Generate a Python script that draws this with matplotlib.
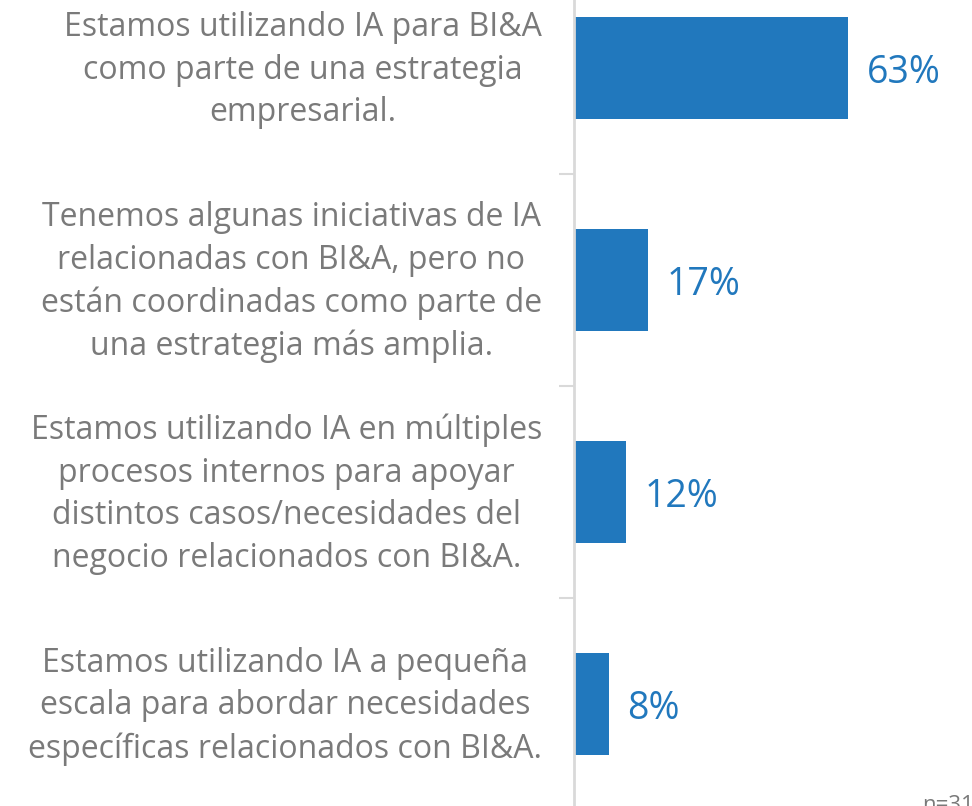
import matplotlib
matplotlib.use("Agg")
import matplotlib.pyplot as plt
from matplotlib.transforms import ScaledTranslation

# data
categories = [
    "Estamos utilizando IA para BI&A\ncomo parte de una estrategia\nempresarial.",
    "Tenemos algunas iniciativas de IA\nrelacionadas con BI&A, pero no\nestán coordinadas como parte de\nuna estrategia más amplia.",
    "Estamos utilizando IA en múltiples\nprocesos internos para apoyar\ndistintos casos/necesidades del\nnegocio relacionados con BI&A.",
    "Estamos utilizando IA a pequeña\nescala para abordar necesidades\nespecíficas relacionados con BI&A.",
]
values = [63, 17, 12, 8]
note = "n=31"

bar_color = "#2178bd"
text_grey = "#7a7a7a"
axis_grey = "#d9d9d9"

plt.rcParams["font.family"] = ["Open Sans", "DejaVu Sans"]

fig = plt.figure(figsize=(9.72, 8.06), dpi=100)
ax = fig.add_axes([574 / 972, 0, 1 - 574 / 972, 1])

pos = list(range(len(values)))
ax.barh(pos, values, height=0.48, color=bar_color)

ax.set_xlim(0, 91.5)
ax.set_ylim(3.481, -0.321)

# value labels, nudged down a few pixels
down = ScaledTranslation(0, -0.05, fig.dpi_scale_trans)
for y, v in zip(pos, values):
    ax.text(v + 4.3, y, f"{v}%", va="center", ha="left", fontsize=27,
            color=bar_color, transform=ax.transData + down)

# category labels sit a touch above the bar centres
ax.set_yticks([p - 0.031 for p in pos])
ax.set_yticklabels(categories, fontsize=23, color=text_grey,
                   ha="right", multialignment="center", linespacing=1.38)
ax.tick_params(axis="y", which="major", length=0, pad=23)
ax.set_yticks([0.5, 1.5, 2.5], minor=True)
ax.tick_params(axis="y", which="minor", length=11, width=1.5, color=axis_grey)

ax.set_xticks([])
for side in ["top", "right", "bottom"]:
    ax.spines[side].set_visible(False)
ax.spines["left"].set_color(axis_grey)
ax.spines["left"].set_linewidth(2)

fig.text(922 / 972, -0.012, note, fontsize=16, color=text_grey, ha="left", va="bottom")

fig.savefig("out.png", dpi=100)
